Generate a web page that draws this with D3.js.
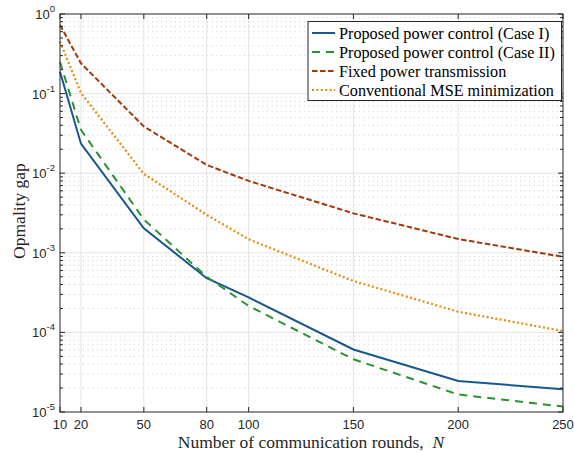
<!DOCTYPE html>
<html><head><meta charset="utf-8">
<script src="https://cdn.jsdelivr.net/npm/d3@7"></script>
<style>body{margin:0;background:#fff}svg{display:block}</style>
</head><body>
<svg id="c" width="574" height="452"></svg>
<script>
const rounds = [10, 20, 50, 80, 100, 150, 200, 250];
const caseI  = [0.188, 0.0235, 0.00203, 0.00048, 0.000275, 6.1e-5, 2.45e-5, 1.93e-5];
const caseII = [0.25, 0.035, 0.00262, 0.0005, 0.000215, 4.6e-5, 1.66e-5, 1.17e-5];
const fixedP = [0.73, 0.24, 0.0387, 0.0127, 0.008, 0.00313, 0.00149, 0.00089];
const convMSE = [0.45, 0.102, 0.0098, 0.0030, 0.00148, 0.000442, 0.000182, 0.000104];
const xTicks = [10, 20, 50, 80, 100, 150, 200, 250];
const yExps = [0, -1, -2, -3, -4, -5];
const seriesNames = ["Proposed power control (Case I)", "Proposed power control (Case II)", "Fixed power transmission", "Conventional MSE minimization"];

const styles = [
  {color:"#16578e", dash:null, w:2},
  {color:"#2a9132", dash:"8,6", w:2},
  {color:"#a2380a", dash:"5.5,2.5", w:2},
  {color:"#e88a0c", dash:"2,2.4", w:2.2}
];
const series = [caseI, caseII, fixedP, convMSE];

const L=60, R=563, T=14, B=412;
const svg = d3.select("#c");
const x = d3.scaleLinear().domain([10,250]).range([L,R]);
const y = d3.scaleLog().domain([1e-5,1]).range([B,T]);

// minor grid (dotted)
const minors = [];
for (let e=-5; e<0; e++) for (let k=2;k<=9;k++) minors.push(k*Math.pow(10,e));
svg.append("g").selectAll("line").data(minors).join("line")
  .attr("x1",L).attr("x2",R).attr("y1",d=>y(d)).attr("y2",d=>y(d))
  .attr("stroke","#c8c8c8").attr("stroke-width",1).attr("stroke-dasharray","1,3.6");
// major grid
svg.append("g").selectAll("line").data(yExps.slice(1,5)).join("line")
  .attr("x1",L).attr("x2",R).attr("y1",d=>y(Math.pow(10,d))).attr("y2",d=>y(Math.pow(10,d)))
  .attr("stroke","#e3e3e3").attr("stroke-width",1);
svg.append("g").selectAll("line").data(xTicks.slice(1,7)).join("line")
  .attr("x1",d=>x(d)).attr("x2",d=>x(d)).attr("y1",T).attr("y2",B)
  .attr("stroke","#e3e3e3").attr("stroke-width",1);

// lines
const line = d3.line().x((d,i)=>x(rounds[i])).y(d=>y(d));
series.forEach((s,i)=>{
  const p = svg.append("path").datum(s).attr("d",line).attr("fill","none")
    .attr("stroke",styles[i].color).attr("stroke-width",styles[i].w);
  if (styles[i].dash) p.attr("stroke-dasharray",styles[i].dash);
});

// axes box and ticks
const ax = svg.append("g").attr("stroke","#262626").attr("stroke-width",1);
ax.append("rect").attr("x",L).attr("y",T).attr("width",R-L).attr("height",B-T).attr("fill","none");
xTicks.forEach(t=>{
  ax.append("line").attr("x1",x(t)).attr("x2",x(t)).attr("y1",B).attr("y2",B-5);
  ax.append("line").attr("x1",x(t)).attr("x2",x(t)).attr("y1",T).attr("y2",T+5);
});
yExps.forEach(e=>{
  const yy=y(Math.pow(10,e));
  ax.append("line").attr("x1",L).attr("x2",L+5).attr("y1",yy).attr("y2",yy);
  ax.append("line").attr("x1",R).attr("x2",R-5).attr("y1",yy).attr("y2",yy);
});
minors.forEach(m=>{
  const yy=y(m);
  ax.append("line").attr("x1",L).attr("x2",L+3).attr("y1",yy).attr("y2",yy);
  ax.append("line").attr("x1",R).attr("x2",R-3).attr("y1",yy).attr("y2",yy);
});

// tick labels
const tl = svg.append("g").attr("font-family","Liberation Sans, Arial, sans-serif").attr("font-size",13).attr("fill","#262626");
xTicks.forEach(t=>{
  tl.append("text").attr("x",x(t)).attr("y",B+17).attr("text-anchor","middle").text(t);
});
yExps.forEach(e=>{
  const yy=y(Math.pow(10,e));
  const tx = tl.append("text").attr("x",55).attr("y",yy+5).attr("text-anchor","end");
  tx.append("tspan").text("10");
  tx.append("tspan").attr("dy",-7).attr("font-size",9.5).text(e);
});

// axis titles
svg.append("text").attr("x",311).attr("y",448).attr("text-anchor","middle")
  .attr("font-family","Liberation Serif, Times New Roman, serif").attr("font-size",17.5).attr("fill","#262626")
  .html('Number of communication rounds,\u00a0\u00a0<tspan font-style="italic">N</tspan>');
svg.append("text").attr("transform","translate(25,211) rotate(-90)").attr("text-anchor","middle")
  .attr("font-family","Liberation Serif, Times New Roman, serif").attr("font-size",17.5).attr("fill","#262626")
  .text("Opmality gap");

// legend
const lg = svg.append("g");
lg.append("rect").attr("x",308).attr("y",21.5).attr("width",253.5).attr("height",79).attr("fill","#fff").attr("stroke","#262626").attr("stroke-width",1);
seriesNames.forEach((n,i)=>{
  const yy = 33 + i*19;
  const l = lg.append("line").attr("x1",312).attr("x2",335).attr("y1",yy).attr("y2",yy)
    .attr("stroke",styles[i].color).attr("stroke-width",styles[i].w);
  if (styles[i].dash) l.attr("stroke-dasharray",styles[i].dash);
  lg.append("text").attr("x",339).attr("y",yy+5.5).attr("font-family","Liberation Serif, Times New Roman, serif")
    .attr("font-size",16.2).attr("fill","#000").text(n);
});
</script>
</body></html>
